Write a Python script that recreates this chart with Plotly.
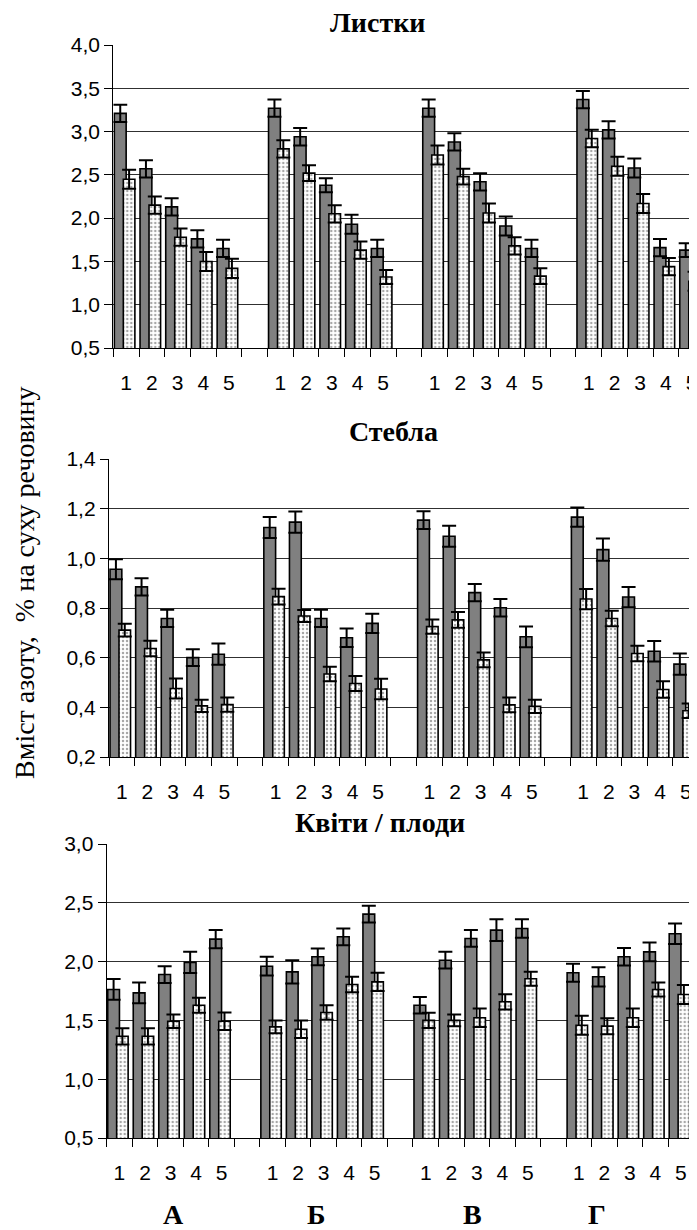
import plotly.graph_objects as go

# the page body adds an 8px margin, so the figure is 8px smaller and all
# reference pixel positions are shifted by 8px
OFF = 8
W, H = 697 - OFF, 1230 - OFF

groups = ["А", "Б", "В", "Г"]
items = ["1", "2", "3", "4", "5"]

# Листки (leaves)
leaves_dark = [3.21, 2.57, 2.13, 1.76, 1.65,
               3.27, 2.94, 2.38, 1.93, 1.65,
               3.27, 2.88, 2.42, 1.91, 1.65,
               3.37, 3.02, 2.58, 1.66, 1.63]
leaves_dark_err = [0.10, 0.10, 0.10, 0.10, 0.10,
                   0.10, 0.10, 0.08, 0.11, 0.10,
                   0.10, 0.10, 0.10, 0.11, 0.10,
                   0.10, 0.10, 0.11, 0.10, 0.08]
leaves_light = [2.45, 2.15, 1.78, 1.50, 1.42,
                2.80, 2.52, 2.05, 1.63, 1.32,
                2.73, 2.48, 2.06, 1.68, 1.33,
                2.92, 2.60, 2.17, 1.44, 1.27]
leaves_light_err = [0.11, 0.10, 0.10, 0.11, 0.11,
                    0.10, 0.09, 0.10, 0.10, 0.08,
                    0.11, 0.09, 0.11, 0.10, 0.09,
                    0.10, 0.11, 0.11, 0.10, 0.11]

# Стебла (stems)
stems_dark = [0.956, 0.885, 0.758, 0.600, 0.614,
              1.124, 1.146, 0.758, 0.680, 0.738,
              1.154, 1.089, 0.862, 0.801, 0.684,
              1.166, 1.035, 0.844, 0.626, 0.574]
stems_dark_err = [0.04, 0.035, 0.035, 0.034, 0.043,
                  0.042, 0.043, 0.035, 0.037, 0.039,
                  0.036, 0.042, 0.035, 0.035, 0.042,
                  0.039, 0.045, 0.041, 0.041, 0.043]
stems_light = [0.711, 0.637, 0.476, 0.406, 0.411,
               0.846, 0.768, 0.534, 0.496, 0.474,
               0.725, 0.752, 0.591, 0.410, 0.404,
               0.836, 0.758, 0.617, 0.472, 0.386]
stems_light_err = [0.026, 0.031, 0.040, 0.025, 0.029,
                   0.032, 0.024, 0.029, 0.030, 0.041,
                   0.029, 0.032, 0.030, 0.030, 0.027,
                   0.041, 0.031, 0.031, 0.033, 0.029]

# Квіти / плоди (flowers / fruits)
flowers_dark = [1.763, 1.734, 1.890, 1.993, 2.191,
                1.961, 1.913, 2.041, 2.211, 2.404,
                1.629, 2.012, 2.197, 2.268, 2.282,
                1.905, 1.871, 2.041, 2.083, 2.237]
flowers_dark_err = [0.088, 0.088, 0.071, 0.090, 0.077,
                    0.080, 0.099, 0.071, 0.071, 0.071,
                    0.071, 0.071, 0.071, 0.093, 0.079,
                    0.076, 0.082, 0.074, 0.080, 0.088]
flowers_light = [1.365, 1.365, 1.493, 1.629, 1.493,
                 1.445, 1.425, 1.567, 1.805, 1.828,
                 1.500, 1.500, 1.522, 1.658, 1.854,
                 1.459, 1.451, 1.522, 1.763, 1.720]
flowers_light_err = [0.069, 0.069, 0.057, 0.063, 0.074,
                     0.055, 0.075, 0.062, 0.066, 0.077,
                     0.064, 0.050, 0.079, 0.065, 0.059,
                     0.080, 0.068, 0.079, 0.059, 0.080]

y_title = "Вміст азоту,  % на суху речовину"
panel_titles = ["Листки", "Стебла", "Квіти / плоди"]

# category slot positions: 5 items per group + 1 empty slot
xpos = [g * 6 + i for g in range(len(groups)) for i in range(len(items))]
xtext = [items[i] for g in range(len(groups)) for i in range(len(items))]


def px(x):
    return (x - OFF) / W


def py(y):
    return 1 - (y - OFF) / H


panels = [
    dict(dark=leaves_dark, dark_err=leaves_dark_err, light=leaves_light, light_err=leaves_light_err,
         yr=[0.5, 4.0], dtick=0.5, left=113.3, right=697, xr=[-0.5, 22.21], top=45, bottom=348,
         title_x=377, title_y=22),
    dict(dark=stems_dark, dark_err=stems_dark_err, light=stems_light, light_err=stems_light_err,
         yr=[0.2, 1.4], dtick=0.2, left=109, right=697, xr=[-0.5, 22.44], top=459, bottom=757,
         title_x=393, title_y=431),
    dict(dark=flowers_dark, dark_err=flowers_dark_err, light=flowers_light, light_err=flowers_light_err,
         yr=[0.5, 3.0], dtick=0.5, left=106.7, right=693.7, xr=[-0.5, 22.5], top=844, bottom=1138,
         title_x=380, title_y=822),
]

fig = go.Figure()
tick_font = dict(family="Liberation Sans, Arial", size=21, color="black")
annotations = []

for k, p in enumerate(panels):
    n = "" if k == 0 else str(k + 1)
    xa, ya = "x" + n, "y" + n
    fig.add_trace(go.Bar(
        x=xpos, y=p["dark"], xaxis=xa, yaxis=ya,
        offset=-0.46, width=0.46,
        marker=dict(color="#808080", line=dict(color="black", width=1.6)),
        error_y=dict(type="data", array=p["dark_err"], visible=True,
                     color="black", thickness=2, width=7),
        showlegend=False,
    ))
    fig.add_trace(go.Bar(
        x=xpos, y=p["light"], xaxis=xa, yaxis=ya,
        offset=-0.11, width=0.45,
        marker=dict(color="white", line=dict(color="black", width=1.6),
                    pattern=dict(shape=".", fgcolor="#505050", bgcolor="white",
                                 size=4, solidity=0.3)),
        error_y=dict(type="data", array=p["light_err"], visible=True,
                     color="black", thickness=2, width=7),
        showlegend=False,
    ))
    xkey = "xaxis" + n
    ykey = "yaxis" + n
    fig.layout[xkey] = dict(
        domain=[px(p["left"]), min(1, px(p["right"]))], anchor=ya, range=p["xr"],
        tickmode="array", tickvals=xpos, ticktext=xtext, automargin=False,
        ticks="outside", ticklen=0, tickfont=tick_font, ticklabelstandoff=16,
        ticklabeloverflow="allow",
        showline=True, linecolor="black", linewidth=1.3, showgrid=False, zeroline=False,
        minor=dict(ticks="outside", ticklen=8, tickcolor="black", tickwidth=1,
                   tick0=-0.5, dtick=1, showgrid=False),
    )
    fig.layout[ykey] = dict(
        domain=[py(p["bottom"]), py(p["top"])], anchor=xa, range=p["yr"],
        dtick=p["dtick"], tick0=p["yr"][0], tickformat=".1f", automargin=False,
        ticks="outside", ticklen=8, tickcolor="black", tickfont=tick_font,
        showline=True, linecolor="black", linewidth=1.3,
        showgrid=True, gridcolor="#303030", gridwidth=1, zeroline=False,
    )
    annotations.append(dict(
        text="<b>" + panel_titles[k] + "</b>", xref="paper", yref="paper",
        x=px(p["title_x"]), y=py(p["title_y"]), xanchor="center", yanchor="middle",
        showarrow=False, font=dict(family="Liberation Serif, Times New Roman", size=28, color="black"),
    ))

# group letters under bottom panel
group_px = [173, 316, 473, 597]
for g, gx in zip(groups, group_px):
    annotations.append(dict(
        text="<b>" + g + "</b>", xref="paper", yref="paper",
        x=px(gx), y=py(1214), xanchor="center", yanchor="middle",
        showarrow=False, font=dict(family="Liberation Serif, Times New Roman", size=28, color="black"),
    ))

annotations.append(dict(
    text=y_title, xref="paper", yref="paper", x=px(24), y=py(583),
    xanchor="center", yanchor="middle", textangle=-90, showarrow=False,
    font=dict(family="Liberation Serif, Times New Roman", size=28, color="black"),
))

fig.update_layout(
    width=W, height=H, margin=dict(l=0, r=0, t=0, b=0, autoexpand=False),
    paper_bgcolor="white", plot_bgcolor="white",
    barmode="overlay", separators=", ", annotations=annotations,
    showlegend=False,
)

fig.write_html("out.html")
